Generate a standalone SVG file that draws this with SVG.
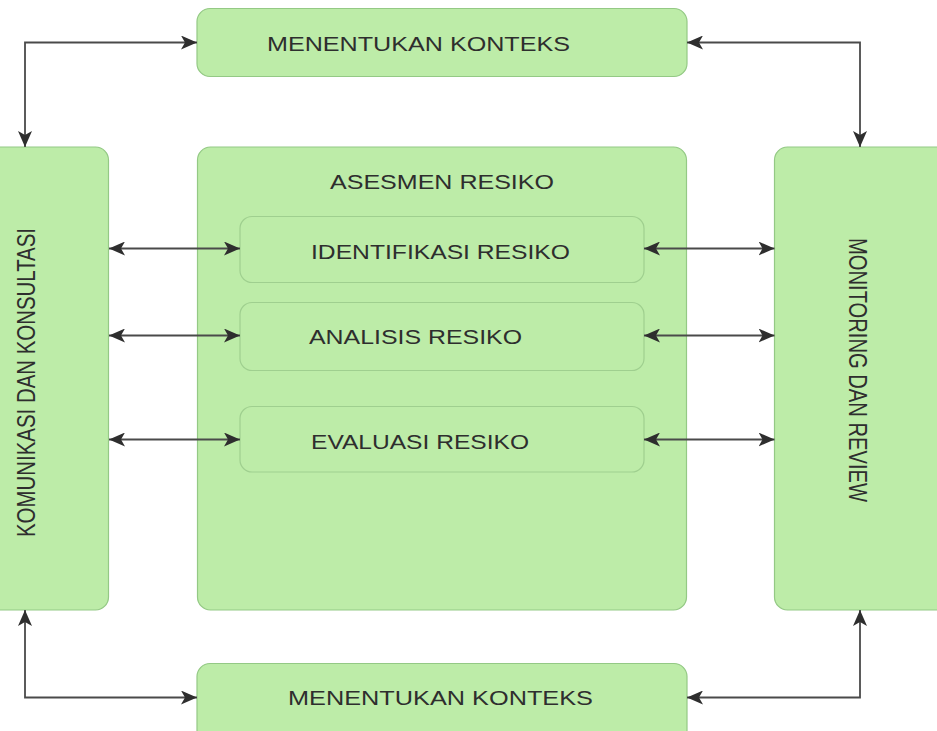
<svg xmlns="http://www.w3.org/2000/svg" width="937" height="731" viewBox="0 0 937 731">
  <style>
    .box { fill: #bdeca8; stroke: #94c985; stroke-width: 1.2; }
    .inner { fill: #bdeca8; stroke: #9fcf8f; stroke-width: 1.2; }
    .lbl { font-family: "Liberation Sans", Arial, sans-serif; font-size: 20px; fill: #2e2e2e; }
    .vlbl { font-family: "Liberation Sans", Arial, sans-serif; font-size: 25px; fill: #2e2e2e; }
    .conn { fill: none; stroke: #4a4a4a; stroke-width: 1.8; marker-start: url(#ah); marker-end: url(#ah); }
  </style>
  <defs>
    <marker id="ah" markerUnits="userSpaceOnUse" markerWidth="16" markerHeight="14" viewBox="0 0 16 14" refX="16" refY="7" orient="auto-start-reverse">
      <path d="M0,0 L16,7 L0,14 L4,7 z" fill="#2e2e2e"/>
    </marker>
  </defs>
  <rect width="937" height="731" fill="#ffffff"/>

  <g id="top-konteks">
    <rect class="box" x="197" y="8.5" width="490" height="68" rx="13"/>
    <text class="lbl" x="267" y="51" textLength="303" lengthAdjust="spacingAndGlyphs">MENENTUKAN KONTEKS</text>
  </g>

  <g id="komunikasi">
    <rect class="box" x="-14" y="147" width="122.5" height="463" rx="13"/>
    <text class="vlbl" transform="translate(35,537) rotate(-90)" x="0" y="0" textLength="309" lengthAdjust="spacingAndGlyphs">KOMUNIKASI DAN KONSULTASI</text>
  </g>

  <g id="asesmen">
    <rect class="box" x="197.5" y="147" width="489" height="463" rx="13"/>
    <text class="lbl" x="330" y="189" textLength="224" lengthAdjust="spacingAndGlyphs">ASESMEN RESIKO</text>
  </g>

  <g id="identifikasi">
    <rect class="inner" x="240" y="216.5" width="404" height="66" rx="12"/>
    <text class="lbl" x="311" y="259" textLength="259" lengthAdjust="spacingAndGlyphs">IDENTIFIKASI RESIKO</text>
  </g>

  <g id="analisis">
    <rect class="inner" x="240" y="302.5" width="404" height="68" rx="12"/>
    <text class="lbl" x="309" y="344" textLength="213" lengthAdjust="spacingAndGlyphs">ANALISIS RESIKO</text>
  </g>

  <g id="evaluasi">
    <rect class="inner" x="240" y="406.5" width="404" height="65.5" rx="12"/>
    <text class="lbl" x="311" y="448.5" textLength="218" lengthAdjust="spacingAndGlyphs">EVALUASI RESIKO</text>
  </g>

  <g id="monitoring">
    <rect class="box" x="774.5" y="147" width="175" height="463" rx="13"/>
    <text class="vlbl" transform="translate(849,238) rotate(90)" x="0" y="0" textLength="264" lengthAdjust="spacingAndGlyphs">MONITORING DAN REVIEW</text>
  </g>

  <g id="bottom-konteks">
    <rect class="box" x="197" y="663.5" width="490" height="80" rx="13"/>
    <text class="lbl" x="288" y="705" textLength="305" lengthAdjust="spacingAndGlyphs">MENENTUKAN KONTEKS</text>
  </g>

  <g id="connectors">
    <path class="conn" d="M197,42.5 H25 V147"/>
    <path class="conn" d="M687,42.5 H860 V147"/>
    <path class="conn" d="M197,697.5 H25 V610"/>
    <path class="conn" d="M687,697.5 H860 V610"/>
    <path class="conn" d="M109,248.5 H240"/>
    <path class="conn" d="M109,335.5 H240"/>
    <path class="conn" d="M109,439.5 H240"/>
    <path class="conn" d="M644,248.5 H774.5"/>
    <path class="conn" d="M644,335.5 H774.5"/>
    <path class="conn" d="M644,439.5 H774.5"/>
  </g>
</svg>
